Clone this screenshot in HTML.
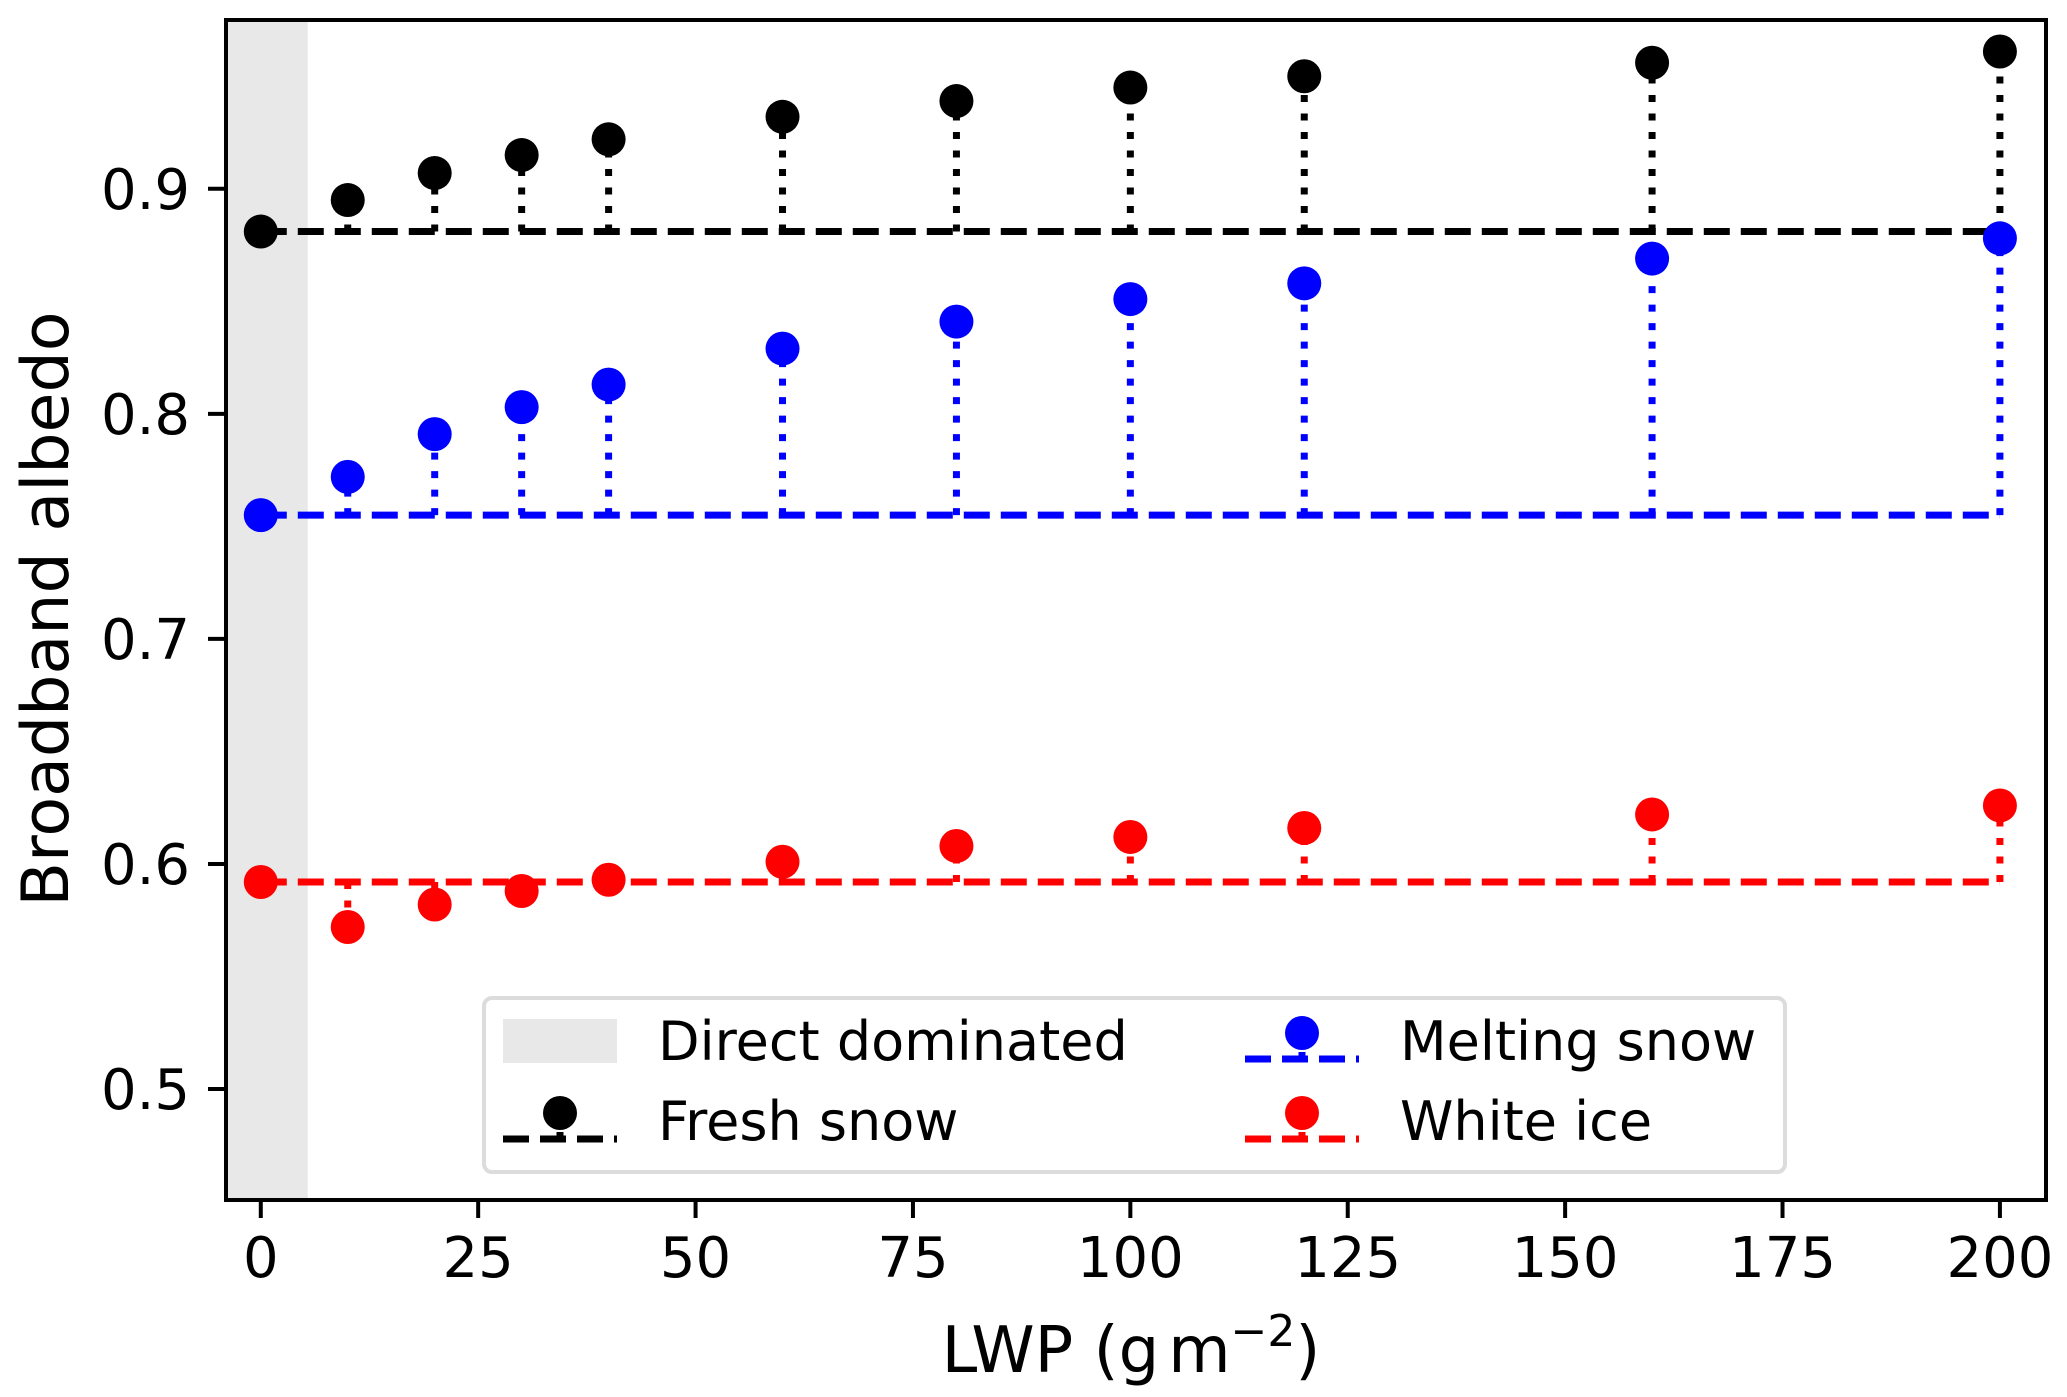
<!DOCTYPE html>
<html><head><meta charset="utf-8"><style>
html,body{margin:0;padding:0;background:#fff;}
svg{display:block;font-family:"DejaVu Sans","Liberation Sans",sans-serif;}
</style></head><body>
<svg id="chart" width="2067" height="1397" viewBox="0 0 2067 1397" xmlns="http://www.w3.org/2000/svg">
<rect width="2067" height="1397" fill="#fff"/>
<g id="plot"></g>
</svg>
<script>
const lwp = [0,10,20,30,40,60,80,100,120,160,200];
const freshSnow = [0.881,0.895,0.907,0.915,0.922,0.932,0.939,0.945,0.950,0.956,0.961];
const meltingSnow = [0.755,0.772,0.791,0.803,0.813,0.829,0.841,0.851,0.858,0.869,0.878];
const whiteIce = [0.592,0.572,0.582,0.588,0.593,0.601,0.608,0.612,0.616,0.622,0.626];
const baselines = [0.881,0.755,0.592];
const xTicks = [0,25,50,75,100,125,150,175,200];
const yTicks = [0.5,0.6,0.7,0.8,0.9];
const directBand = [-4,5.4];

const NS="http://www.w3.org/2000/svg";
const L=226,R=2046,T=20,B=1200;
const X0=-4,X1=205.3,Y0=0.4507,Y1=0.975;
function xs(v){return L+(v-X0)/(X1-X0)*(R-L);}
function ys(v){return B-(v-Y0)/(Y1-Y0)*(B-T);}
const g=document.getElementById('plot');
function el(tag,attrs,parent){const e=document.createElementNS(NS,tag);for(const k in attrs)e.setAttribute(k,attrs[k]);(parent||g).appendChild(e);return e;}

let band=el('rect',{x:xs(directBand[0]),y:T,width:xs(directBand[1])-xs(directBand[0]),height:B-T,fill:'#e8e8e8'});



const series=[[freshSnow,'#000','fresh-snow'],[meltingSnow,'#0000ff','melting-snow'],[whiteIce,'#ff0000','white-ice']];
series.forEach((s,si)=>{
  const [vals,col,name]=s;
  const base=baselines[si];
  const sg=el('g',{});
  
  
  vals.forEach((v,i)=>{
    const st=el('line',{x1:xs(lwp[i]),x2:xs(lwp[i]),y1:ys(base),y2:ys(v),stroke:col,'stroke-width':7,'stroke-dasharray':'7 11.5'},sg);
    
    
  });
  const bl=el('line',{x1:xs(lwp[0]),x2:xs(lwp[lwp.length-1]),y1:ys(base),y2:ys(base),stroke:col,'stroke-width':7,'stroke-dasharray':'26 11'},sg);
  
  
  vals.forEach((v,i)=>{
    const c=el('circle',{cx:xs(lwp[i]),cy:ys(v),r:17,fill:col},sg);
    
    
  });
});

let sp=el('rect',{x:L,y:T,width:R-L,height:B-T,fill:'none',stroke:'#000','stroke-width':4});



xTicks.forEach(t=>{
  const x=xs(t);
  const tk=el('line',{x1:x,x2:x,y1:B,y2:B+18,stroke:'#000','stroke-width':4});
  
  
  const tx=el('text',{x:x,y:1277,'font-size':56,'text-anchor':'middle',fill:'#000'});
  tx.textContent=t;
  
  
});
yTicks.forEach(t=>{
  const y=ys(t);
  const tk=el('line',{x1:L,x2:L-18,y1:y,y2:y,stroke:'#000','stroke-width':4});
  
  
  const tx=el('text',{x:190,y:y+20,'font-size':56,'text-anchor':'end',fill:'#000'});
  tx.textContent=t.toFixed(1);
  
  
});

let xl=el('text',{x:1131,y:1372,'font-size':64,'text-anchor':'middle',fill:'#000'});
xl.innerHTML='LWP (g<tspan dx="9">m</tspan><tspan font-size="44" dy="-26">−2</tspan><tspan dy="26">)</tspan>';


let yl=el('text',{x:0,y:0,'font-size':65,'text-anchor':'middle',fill:'#000',transform:'translate(68,609) rotate(-90)'});
yl.textContent='Broadband albedo';



const lg=el('g',{});


el('rect',{x:484,y:998,width:1301,height:174,rx:8,fill:'#fff',stroke:'#dcdcdc','stroke-width':4},lg);
let lr=el('rect',{x:503,y:1019,width:114,height:44,fill:'#e8e8e8'},lg);


function txt(x,y,s,n){const t=el('text',{x:x,y:y,'font-size':54,fill:'#000'},lg);t.textContent=s;}
txt(658,1060,'Direct dominated','legend-label-direct');
function stemHandle(x,yc,col,n){
  const hg=el('g',{},lg);
  
  
  el('line',{x1:x,x2:x+114,y1:yc+18,y2:yc+18,stroke:col,'stroke-width':7,'stroke-dasharray':'26 11'},hg);
  el('line',{x1:x+57,x2:x+57,y1:yc+18,y2:yc-8,stroke:col,'stroke-width':7,'stroke-dasharray':'7 11.5'},hg);
  el('circle',{cx:x+57,cy:yc-8,r:17,fill:col},hg);
}
stemHandle(503,1121,'#000','legend-handle-fresh');
txt(658,1140,'Fresh snow','legend-label-fresh');
stemHandle(1245,1041,'#0000ff','legend-handle-melting');
txt(1400,1060,'Melting snow','legend-label-melting');
stemHandle(1245,1121,'#ff0000','legend-handle-white-ice');
txt(1400,1140,'White ice','legend-label-white-ice');
</script>
</body></html>
